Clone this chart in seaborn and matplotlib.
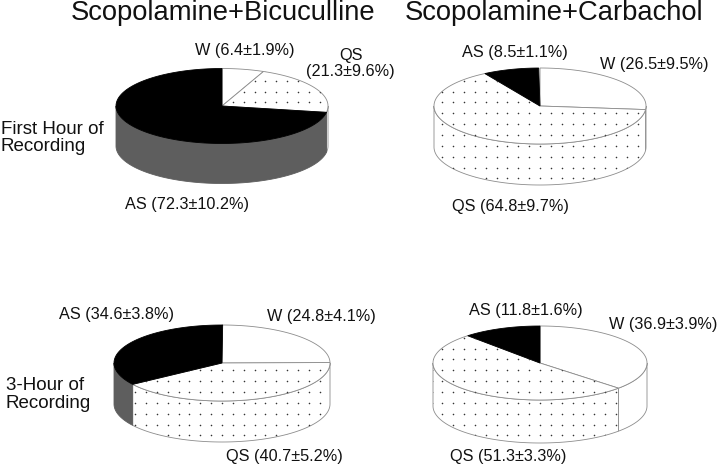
import numpy as np
import matplotlib
matplotlib.use("Agg")
import matplotlib.pyplot as plt
from matplotlib.patches import Polygon
import pandas as pd
import seaborn as sns

W_vals = [6.4, 26.5, 24.8, 36.9]
W_errs = [1.9, 9.5, 4.1, 3.9]
QS_vals = [21.3, 64.8, 40.7, 51.3]
QS_errs = [9.6, 9.7, 5.2, 3.3]
AS_vals = [72.3, 8.5, 34.6, 11.8]
AS_errs = [10.2, 1.1, 3.8, 1.6]
titles = ["Scopolamine+Bicuculline", "Scopolamine+Carbachol"]
row_labels = ["First Hour of\nRecording", "3-Hour of\nRecording"]

sns.set_theme(style="white", rc={"font.family": ["Liberation Sans", "DejaVu Sans"]})
FW, FH = 720, 466
fig = plt.figure(figsize=(FW / 100, FH / 100), dpi=100, facecolor="white")

LINE = "#8c8c8c"
FILL = {"W": "#ffffff", "QS": "#ffffff", "AS": "#000000"}
SIDE = {"W": "#ffffff", "QS": "#ffffff", "AS": "#5e5e5e"}
SPACING = 10.85

# panel geometry in pixels: centre x, centre y, rx, ry, depth
geom = [(222, 106, 106, 37.5, 40), (540, 106, 106, 38, 41),
        (222, 363, 108, 38, 41), (540, 363, 107, 37, 43)]
# text anchors in pixels: label -> (x centre, y centre)
label_pos = [
    {"W": (245, 51), "QS": (350.5, 63.5), "AS": (187, 204.5)},
    {"AS": (515, 53), "W": (654, 64), "QS": (510.5, 206.5)},
    {"AS": (116.5, 315), "W": (321.5, 317), "QS": (284, 457)},
    {"AS": (526, 310), "W": (663.5, 325), "QS": (508, 457)},
]


def top_pts(a, b):
    t = np.radians(np.linspace(a, b, max(int(abs(b - a)) + 2, 3)))
    return np.sin(t), np.cos(t)


for i in range(4):
    cx, cy, rx, ry, dep = geom[i]
    m = 6
    ax = fig.add_axes([(cx - rx - m) / FW, 1 - (cy + ry + dep + m) / FH,
                       (2 * rx + 2 * m) / FW, (2 * ry + dep + 2 * m) / FH])
    ax.set_xlim(-rx - m, rx + m)
    ax.set_ylim(-ry - dep - m, ry + m)
    ax.axis("off")
    ax.patch.set_alpha(0)

    # dot lattice, as pixel offsets from the pie centre
    gx, gy = np.meshgrid(np.arange(-12, 13) * SPACING,
                         -7.3 - np.arange(-8, 9) * SPACING)
    gx, gy = gx.ravel(), gy.ravel()

    start = 0.0
    for name, val in zip(["W", "QS", "AS"], [W_vals[i], QS_vals[i], AS_vals[i]]):
        end = start + val * 3.6
        polys = []
        # front side wall
        a, b = max(start, 90), min(end, 270)
        if b > a:
            sx, sy = top_pts(a, b)
            px = np.r_[sx * rx, (sx * rx)[::-1]]
            py = np.r_[sy * ry, (sy * ry - dep)[::-1]]
            side = Polygon(np.c_[px, py], closed=True, fc=SIDE[name], ec=LINE if name != "AS" else SIDE[name],
                           lw=0.6, zorder=2)
            ax.add_patch(side)
            polys.append(side)
        # top slice
        sx, sy = top_pts(start, end)
        top = Polygon(np.c_[np.r_[0, sx * rx], np.r_[0, sy * ry]], closed=True,
                      fc=FILL[name], ec=LINE if name != "AS" else "#000000", lw=0.6, zorder=3)
        ax.add_patch(top)
        polys.append(top)
        if name == "QS":
            for p in polys:
                before = len(ax.collections)
                sns.scatterplot(x=gx, y=gy, s=1.3, color="#333333", linewidth=0,
                                ax=ax, legend=False, zorder=4, clip_on=True)
                ax.collections[before].set_clip_path(p)
        start = end
    ax.set_xlim(-rx - m, rx + m)
    ax.set_ylim(-ry - dep - m, ry + m)

    vals = {"W": (W_vals[i], W_errs[i]), "QS": (QS_vals[i], QS_errs[i]), "AS": (AS_vals[i], AS_errs[i])}
    for name, (x, y) in label_pos[i].items():
        v, e = vals[name]
        sep = "\n" if (i == 0 and name == "QS") else " "
        fig.text(x / FW, 1 - y / FH, f"{name}{sep}({v}±{e}%)", ha="center", va="center",
                 fontsize=11.7, color="#111111", linespacing=1.13)

fig.text(223 / FW, 1 - 20 / FH, titles[0], ha="center", va="baseline", fontsize=19.75, color="#111111")
fig.text(554 / FW, 1 - 20 / FH, titles[1], ha="center", va="baseline", fontsize=19.75, color="#111111")
fig.text(1 / FW, 1 - 151 / FH, row_labels[0], ha="left", va="baseline", fontsize=13.5, color="#111111", linespacing=1.03)
fig.text(5.5 / FW, 1 - 407.5 / FH, row_labels[1], ha="left", va="baseline", fontsize=13.5, color="#111111", linespacing=1.03)

fig.savefig("out.png", dpi=100)
